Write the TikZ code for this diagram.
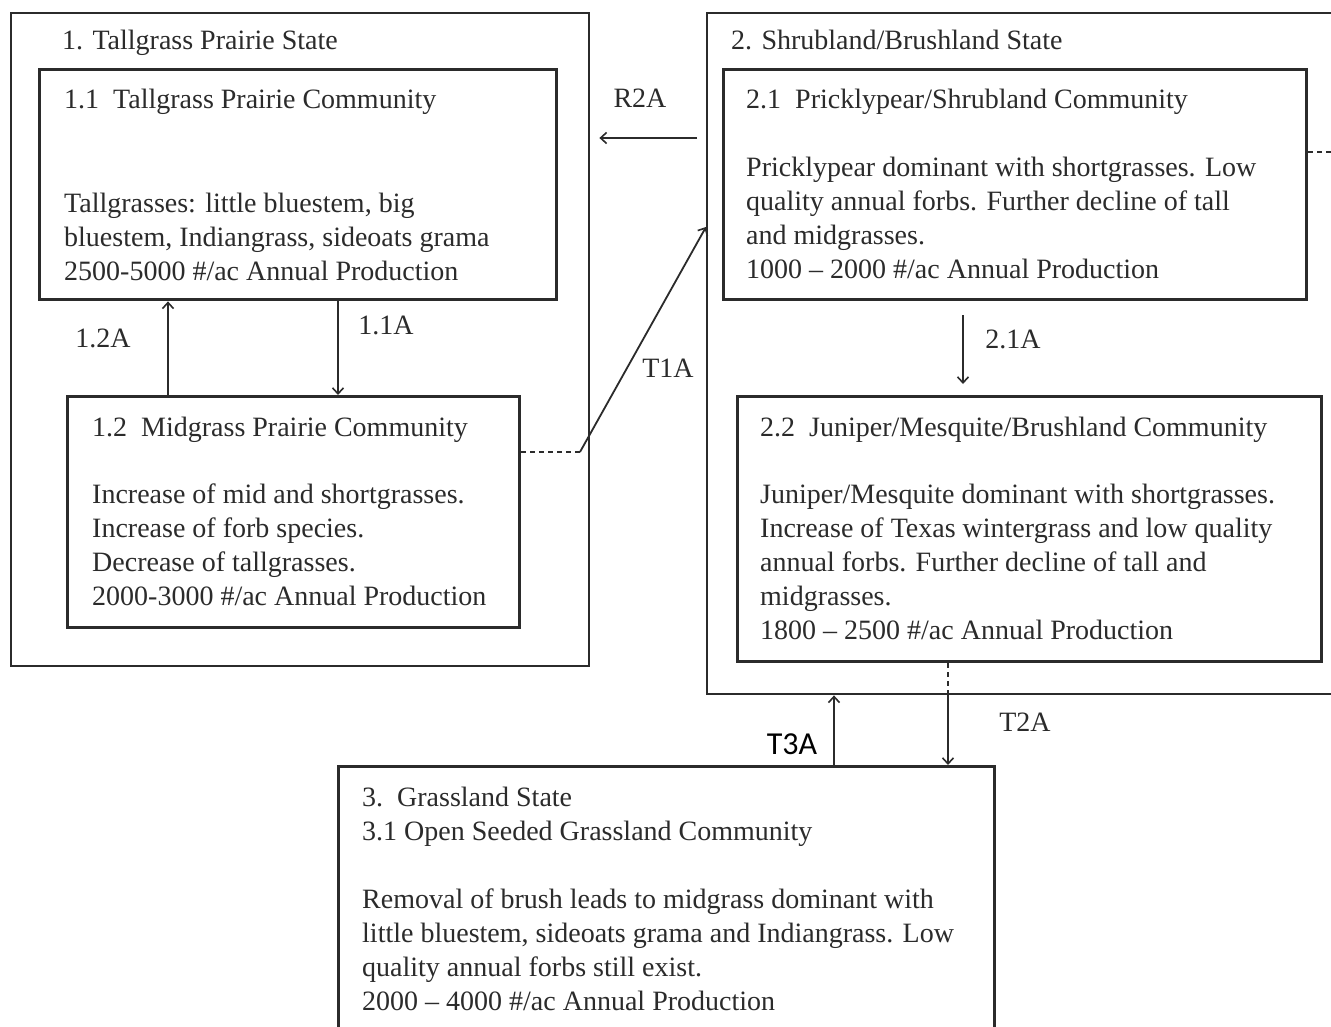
\documentclass[tikz,border=0pt]{standalone}
\usepackage{fontspec}
\setmainfont{Liberation Serif}
\newfontfamily\calib{Carlito}
\usetikzlibrary{arrows.meta,calc}
\definecolor{ink}{HTML}{2B2B2B}
\tikzset{
  statebox/.style={draw=ink,line width=2.4pt,anchor=north west,inner sep=0pt},
  commbox/.style={draw=ink,line width=3.4pt,anchor=north west,inner sep=0pt},
  txt/.style={anchor=north west,inner sep=0pt,align=left,text=ink,font=\fontsize{28}{34}\selectfont},
  lbl/.style={inner sep=0pt,text=ink,font=\fontsize{28}{34}\selectfont},
  arr/.style={draw=ink,line width=1.8pt,-{Straight Barb[length=6pt,width=11pt,line width=1.6pt]}},
  dsh/.style={draw=ink,line width=1.6pt,dash pattern=on 5pt off 4pt}
}
\begin{document}
\begin{tikzpicture}[x=1pt,y=-1pt]
\useasboundingbox (0,0) rectangle (1331,1027);
\fill[white] (0,0) rectangle (1331,1027);
% state boxes
\node[statebox,minimum width=578pt,minimum height=653pt] (s1) at (10,12) {};
\node[statebox,minimum width=640pt,minimum height=681pt] (s2) at (706,12) {};
% community boxes
\node[commbox,minimum width=517pt,minimum height=230pt] (b11) at (38,68) {};
\node[commbox,minimum width=452pt,minimum height=231pt] (b12) at (66,395) {};
\node[commbox,minimum width=583pt,minimum height=230pt] (b21) at (722,68) {};
\node[commbox,minimum width=584pt,minimum height=265pt] (b22) at (736,395) {};
\node[statebox,line width=3pt,minimum width=656pt,minimum height=280pt] (b3) at (337,765) {};
% texts
\node[txt] (t1) at (62,30) {1. Tallgrass Prairie State};
\node[txt] (t11) at (64,89) {1.1\ \ Tallgrass Prairie Community};
\node[txt] (t11b) at (64,193) {Tallgrasses: little bluestem, big\\bluestem, Indiangrass, sideoats grama\\2500-5000 \#/ac Annual Production};
\node[txt] (t12) at (92,417) {1.2\ \ Midgrass Prairie Community};
\node[txt] (t12b) at (92,484) {Increase of mid and shortgrasses.\\Increase of forb species.\\Decrease of tallgrasses.\\2000-3000 \#/ac Annual Production};
\node[txt] (t2) at (731,30) {2. Shrubland/Brushland State};
\node[txt] (t21) at (746,89) {2.1\ \ Pricklypear/Shrubland Community};
\node[txt] (t21b) at (746,157) {Pricklypear dominant with shortgrasses. Low\\quality annual forbs. Further decline of tall\\and midgrasses.\\1000 – 2000 \#/ac Annual Production};
\node[txt] (t22) at (760,417) {2.2\ \ Juniper/Mesquite/Brushland Community};
\node[txt] (t22b) at (760,484) {Juniper/Mesquite dominant with shortgrasses.\\Increase of Texas wintergrass and low quality\\annual forbs. Further decline of tall and\\midgrasses.\\1800 – 2500 \#/ac Annual Production};
\node[txt] (t3) at (362,787) {3.\ \ Grassland State\\3.1 Open Seeded Grassland Community};
\node[txt] (t3b) at (362,889) {Removal of brush leads to midgrass dominant with\\little bluestem, sideoats grama and Indiangrass. Low\\quality annual forbs still exist.\\2000 – 4000 \#/ac Annual Production};
% labels
\node[lbl] (l12a) at (103,338) {1.2A};
\node[lbl] (l11a) at (386,325) {1.1A};
\node[lbl] (lr2a) at (640,98) {R2A};
\node[lbl] (lt1a) at (668,368) {T1A};
\node[lbl] (l21a) at (1013,339) {2.1A};
\node[lbl] (lt2a) at (1025,722) {T2A};
\node[inner sep=0pt,text=black,font=\calib\fontsize{32}{36}\selectfont] (lt3a) at (792,744) {T3A};
% helper coordinates
\coordinate (xa) at (338,0);
\coordinate (xb) at (168,0);
\coordinate (ka) at (580,452);
\coordinate (kb) at (0,227);
\coordinate (kr) at (0,138);
\coordinate (xc) at (963,0);
\coordinate (xd) at (948,0);
\coordinate (xe) at (834,0);
\coordinate (kd) at (1345,152);
% connectors
\draw[arr] (b11.south -| xa) -- (b12.north -| xa);
\draw[arr] (b12.north -| xb) -- (b11.south -| xb);
\draw[dsh] (ka -| b12.east) -- (ka);
\draw[arr] (ka) -- (s2.west |- kb);
\draw[arr] ($(s2.west |- kr)+(-9,0)$) -- ($(s1.east |- kr)+(9,0)$);
\draw[arr] ($(b21.south -| xc)+(0,14)$) -- ($(b22.north -| xc)+(0,-11)$);
\draw[dsh] (b22.south -| xd) -- (s2.south -| xd);
\draw[arr] (s2.south -| xd) -- (b3.north -| xd);
\draw[arr] (b3.north -| xe) -- (s2.south -| xe);
\draw[dsh] (b21.east |- kd) -- (kd);
\end{tikzpicture}
\end{document}
